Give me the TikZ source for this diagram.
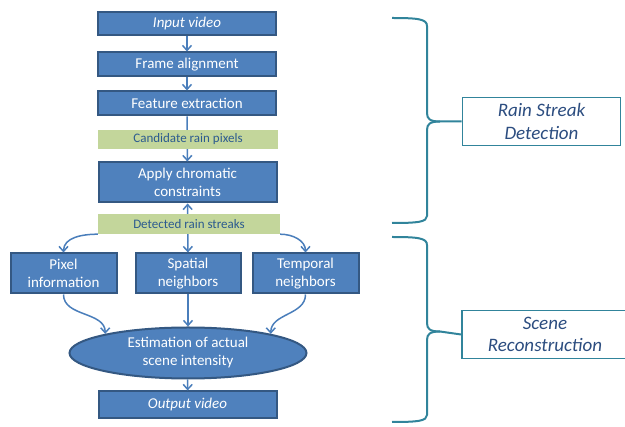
\documentclass[tikz,border=0pt]{standalone}
\usepackage{fontspec}
\setmainfont{Carlito}
\usetikzlibrary{shapes.geometric,arrows.meta}
\definecolor{boxfill}{HTML}{4F81BD}
\definecolor{boxline}{HTML}{345882}
\definecolor{labfill}{HTML}{C3D69B}
\definecolor{labtext}{HTML}{2C5B8F}
\definecolor{arrowc}{HTML}{4A7EBB}
\definecolor{bracec}{HTML}{31849B}
\definecolor{sectext}{HTML}{2C4D80}
\begin{document}
\begin{tikzpicture}[x=1pt,y=-1pt,
  proc/.style={draw=boxline, line width=2pt, fill=boxfill, text=white,
    font=\fontsize{15}{18}\selectfont, align=center, inner sep=0pt},
  lab/.style={fill=labfill, text=labtext, font=\fontsize{13}{15}\selectfont, inner sep=0pt},
  sec/.style={draw=bracec, line width=1.8pt, fill=white, text=sectext,
    font=\fontsize{19}{22.5}\selectfont\itshape, align=center, inner sep=0pt},
  arr/.style={draw=arrowc, line width=1.5pt, -{Straight Barb[length=5pt,width=9pt]}},
  brace/.style={draw=bracec, line width=2pt}]
\useasboundingbox (0,0) rectangle (625,427);

\node[proc, minimum width=178pt, minimum height=23pt] (in) at (187,24) {\itshape Input video};
\node[proc, minimum width=178pt, minimum height=24pt] (fa) at (187,64.5) {Frame alignment};
\node[proc, minimum width=178pt, minimum height=24pt] (fe) at (187,103.5) {Feature extraction};
\node[proc, minimum width=178pt, minimum height=40pt] (ap) at (187.5,182.5) {Apply chromatic\\constraints};
\node[proc, minimum width=106pt, minimum height=40pt] (px) at (63.5,273.5) {Pixel\\information};
\node[proc, minimum width=105pt, minimum height=40pt] (sp) at (188,273.5) {Spatial\\neighbors};
\node[proc, minimum width=106pt, minimum height=40pt] (tp) at (305.5,273.5) {Temporal\\neighbors};
\node[proc, ellipse, minimum width=237pt, minimum height=51pt] (es) at (188,353) {Estimation of actual\\scene intensity};
\node[proc, minimum width=178pt, minimum height=27pt] (out) at (187.5,405) {\itshape Output video};

\draw[arr] (in) -- (fa);
\draw[arr] (fa) -- (fe);
\draw[arr] (fe) -- (ap);
\draw[arr, {Straight Barb[length=5pt,width=9pt]}-{Straight Barb[length=5pt,width=9pt]}] (ap) -- (sp);

\node[lab, minimum width=180pt, minimum height=19pt] (cand) at (188,139.5) {Candidate rain pixels};
\node[lab, minimum width=182pt, minimum height=20pt] (det) at (189,224) {Detected rain streaks};

\draw[arr] (det.south west) to[out=180, in=90] (px.north);
\draw[arr] (det.south east) to[out=0, in=90] (tp.north);
\draw[arr] (px.south) to[out=-90, in=90] (es.167);
\draw[arr] (sp) -- (es);
\draw[arr] (tp.south) to[out=-90, in=90] (es.13);
\draw[arr] (es) -- (out);

\node[sec, minimum width=158pt, minimum height=48pt] (rsd) at (541.5,121.5) {Rain Streak\\Detection};
\node[sec, minimum width=166pt, minimum height=48pt] (scr) at (545,334.5) {Scene\\Reconstruction};

\draw[brace] (392,18) .. controls (418,18) and (427,19) .. (427,26) -- (427,113)
  .. controls (427,119) and (430,121.5) .. (440,121.5) -- (rsd.west);
\draw[brace] (440,121.5) .. controls (430,121.5) and (427,124) .. (427,130) -- (427,216)
  .. controls (427,222) and (418,223) .. (392,223);
\draw[brace] (392,237) .. controls (418,237) and (427,238) .. (427,245) -- (427,323)
  .. controls (427,329) and (430,331.5) .. (440,331.5) -- (scr.west);
\draw[brace] (440,331.5) .. controls (430,331.5) and (427,334) .. (427,340) -- (427,415)
  .. controls (427,421) and (418,422) .. (392,422);
\end{tikzpicture}
\end{document}
